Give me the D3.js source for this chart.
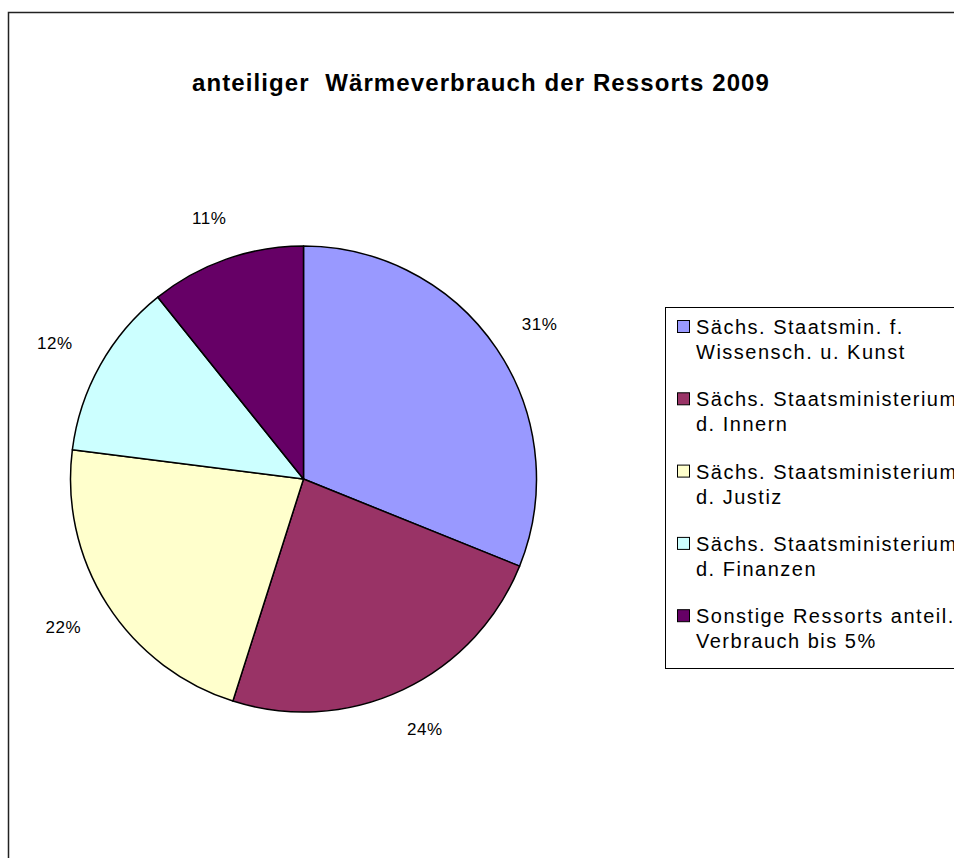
<!DOCTYPE html>
<html><head><meta charset="utf-8">
<script src="https://cdn.jsdelivr.net/npm/d3@7"></script>
<style>body{margin:0;background:#fff;overflow:hidden}svg{display:block}</style>
</head><body>
<svg id="c" width="954" height="858"></svg>
<script>
const title = "anteiliger  Wärmeverbrauch der Ressorts 2009";
const categories = [
  ["Sächs. Staatsmin. f.", "Wissensch. u. Kunst"],
  ["Sächs. Staatsministerium", "d. Innern"],
  ["Sächs. Staatsministerium", "d. Justiz"],
  ["Sächs. Staatsministerium", "d. Finanzen"],
  ["Sonstige Ressorts anteil.", "Verbrauch bis 5%"]
];
const values = [31.1, 23.8, 22.1, 12.25, 10.75];
const colors = ["#9999FF", "#993366", "#FFFFCC", "#CCFFFF", "#660066"];

const svg = d3.select("#c");
const font = "'Liberation Sans', Arial, sans-serif";

svg.append("rect").attr("x", 8.5).attr("y", 12.5).attr("width", 1200).attr("height", 1200)
  .attr("fill", "#fff").attr("stroke", "#222").attr("stroke-width", 1.5);

svg.append("text").attr("x", 481).attr("y", 91).attr("text-anchor", "middle")
  .attr("font-family", font).attr("font-weight", "bold").attr("font-size", 24)
  .attr("letter-spacing", 1.1).style("white-space", "pre")
  .text(title);

const cx = 303.5, cy = 479, R = 233;
const total = d3.sum(values);
const pie = d3.pie().sort(null).value(d => d)(values);
const arc = d3.arc().innerRadius(0).outerRadius(R);
const g = svg.append("g").attr("transform", `translate(${cx},${cy})`);
g.selectAll("path").data(pie).join("path")
  .attr("d", arc).attr("fill", (d, i) => colors[i])
  .attr("stroke", "#000").attr("stroke-width", 1.5).attr("stroke-linejoin", "round");

// labels outside end
const pad = 34;
g.selectAll("text.lbl").data(pie).join("text").attr("class", "lbl")
  .attr("font-family", font).attr("font-size", 17).attr("letter-spacing", 0.6)
  .attr("text-anchor", "middle").attr("dominant-baseline", "central")
  .text(d => Math.round(d.value / total * 100) + "%")
  .each(function(d) {
    const bb = this.getBBox();
    const a = (d.startAngle + d.endAngle) / 2;
    const x = (R + pad) * Math.sin(a) + bb.width / 2 * Math.sin(a);
    const y = -(R + pad) * Math.cos(a) - bb.height / 2 * Math.cos(a);
    d3.select(this).attr("x", x).attr("y", y);
  });

// legend
const lg = svg.append("g");
lg.append("rect").attr("x", 665.5).attr("y", 307.5).attr("width", 400).attr("height", 361)
  .attr("fill", "#fff").attr("stroke", "#000").attr("stroke-width", 1);
const items = lg.selectAll("g.it").data(categories).join("g").attr("class", "it")
  .attr("transform", (d, i) => `translate(0,${327 + i * 72.3})`);
items.append("rect").attr("x", 677.5).attr("y", -6.5).attr("width", 12).attr("height", 12)
  .attr("fill", (d, i) => colors[i]).attr("stroke", "#000").attr("stroke-width", 1);
items.each(function(d) {
  const t = d3.select(this).append("text").attr("font-family", font).attr("font-size", 20)
    .attr("letter-spacing", 1.5).attr("dominant-baseline", "central");
  d.forEach((line, j) => t.append("tspan").attr("x", 696).attr("y", j * 25).text(line));
});
</script>
</body></html>
